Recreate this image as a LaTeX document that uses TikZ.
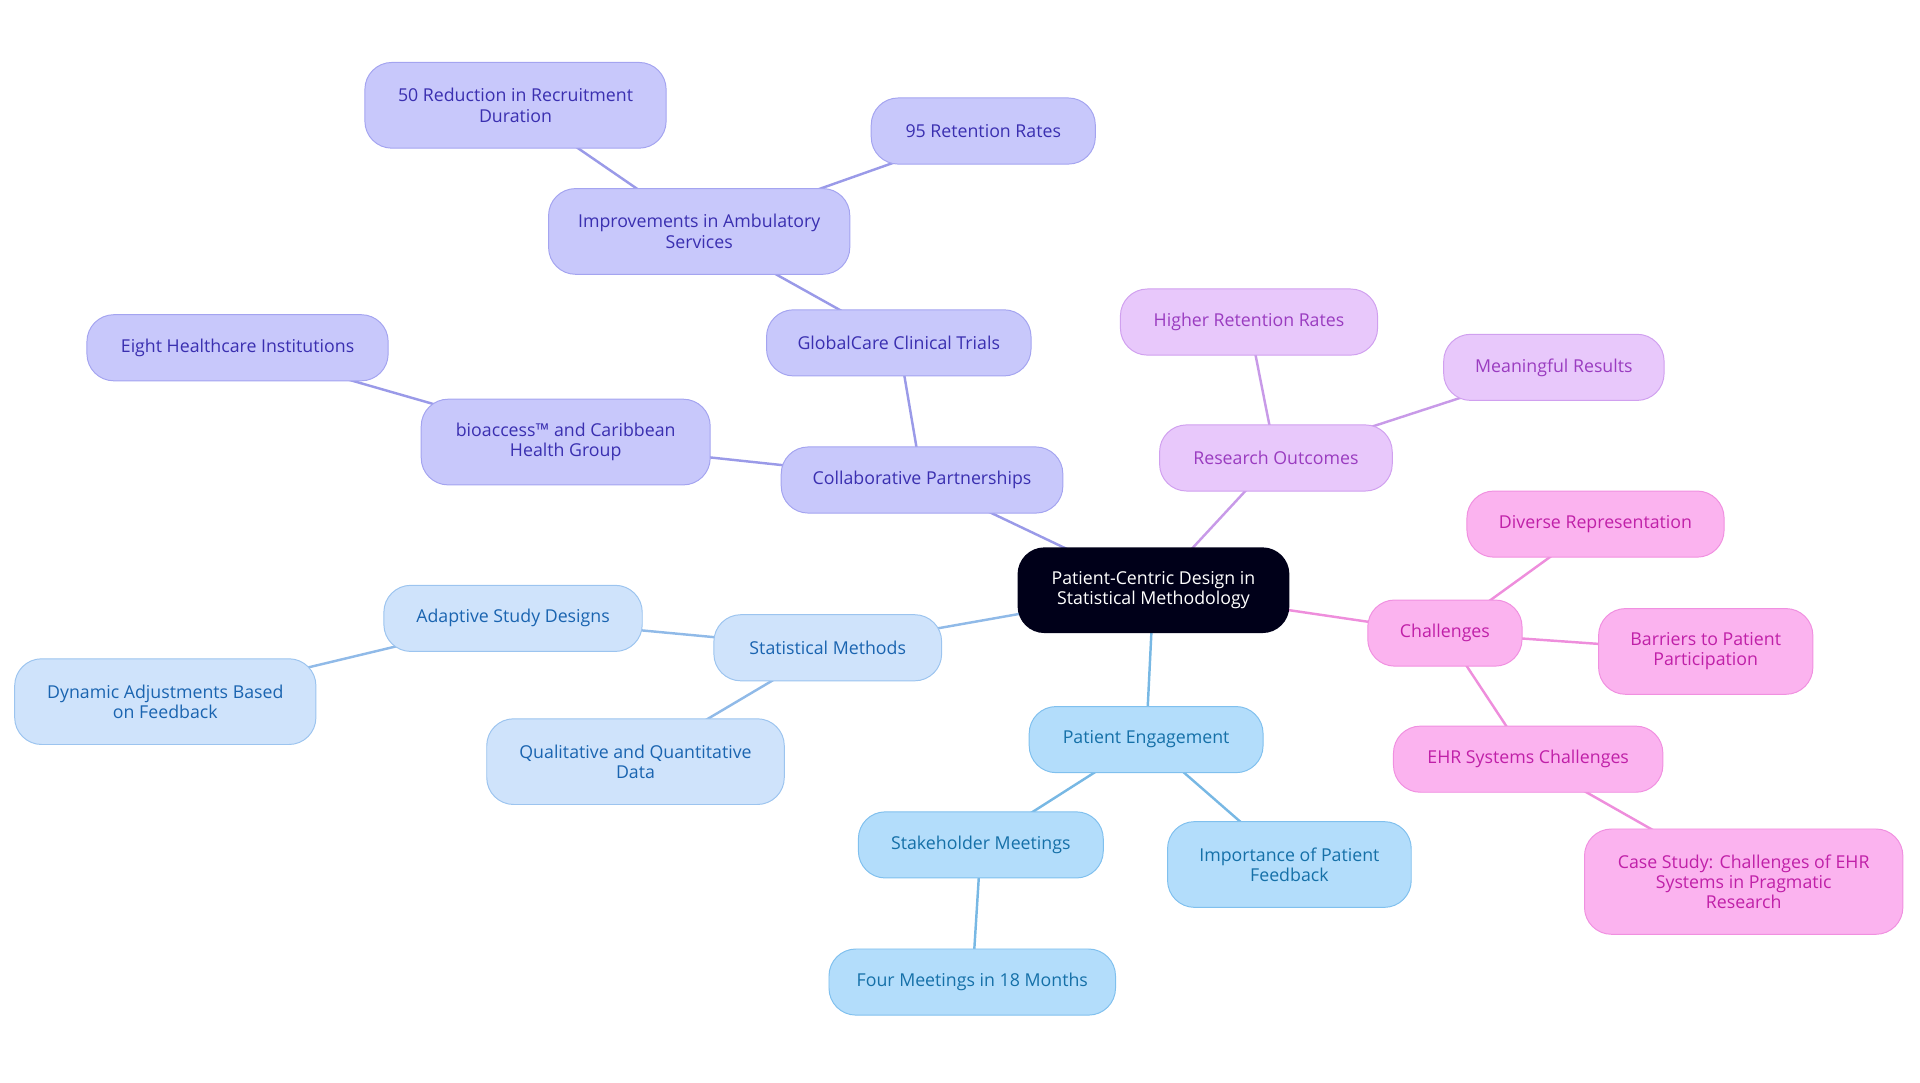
\documentclass[tikz,border=0pt]{standalone}
\usepackage{fontspec}
\setmainfont{Open Sans}
\begin{document}
\begin{tikzpicture}[x=1pt,y=-1pt,
 base/.style={rounded corners=22pt,align=center,font=\fontsize{14.5}{16.5}\selectfont,inner sep=0pt,line width=0.8pt},
 pu/.style={base,fill=pF,draw=pD,text=pT},
 lb/.style={base,fill=lF,draw=lD,text=lT},
 bl/.style={base,fill=bF,draw=bD,text=bT},
 vi/.style={base,fill=vF,draw=vD,text=vT},
 pk/.style={base,fill=kF,draw=kD,text=kT},
 e/.style={line width=2pt}]
\definecolor{pF}{HTML}{C8C8FB}\definecolor{pD}{HTML}{A4A4F0}\definecolor{pT}{HTML}{3A2FB0}\definecolor{pE}{HTML}{9A9AE8}
\definecolor{lF}{HTML}{CFE3FB}\definecolor{lD}{HTML}{9CC4EF}\definecolor{lT}{HTML}{1A64B0}\definecolor{lE}{HTML}{90BAE8}
\definecolor{bF}{HTML}{B3DDFB}\definecolor{bD}{HTML}{80C0EE}\definecolor{bT}{HTML}{1570A8}\definecolor{bE}{HTML}{78B8E4}
\definecolor{vF}{HTML}{E8C8FB}\definecolor{vD}{HTML}{D0A0EF}\definecolor{vT}{HTML}{9A3CC0}\definecolor{vE}{HTML}{C89AE8}
\definecolor{kF}{HTML}{FBB3EF}\definecolor{kD}{HTML}{F090E0}\definecolor{kT}{HTML}{C020A8}\definecolor{kE}{HTML}{EE8EDC}
\useasboundingbox (0,0) rectangle (1568,884);
\def\nd#1#2#3#4#5#6#7{\node[#1,minimum width=#4pt,minimum height=#5pt] (#6) at (#2,#3) {#7};}
\nd{base,fill=black!90!blue,text=white}{942}{482}{222}{70}{c}{Patient-Centric Design in\\Statistical Methodology}
\nd{pu}{753}{392}{230}{54}{cp}{Collaborative Partnerships}
\nd{pu}{734}{280}{216}{54}{gc}{GlobalCare Clinical Trials}
\nd{pu}{571}{189}{246}{70}{im}{Improvements in Ambulatory\\Services}
\nd{pu}{421}{86}{246}{70}{fr}{50 Reduction in Recruitment\\Duration}
\nd{pu}{803}{107}{183}{54}{nr}{95 Retention Rates}
\nd{pu}{462}{361}{236}{70}{bi}{bioaccess™ and Caribbean\\Health Group}
\nd{pu}{194}{284}{246}{54}{eh}{Eight Healthcare Institutions}
\nd{lb}{676}{529}{186}{54}{sm}{Statistical Methods}
\nd{lb}{419}{505}{211}{54}{ad}{Adaptive Study Designs}
\nd{lb}{135}{573}{246}{70}{dy}{Dynamic Adjustments Based\\on Feedback}
\nd{lb}{519}{622}{243}{70}{qu}{Qualitative and Quantitative\\Data}
\nd{bl}{936}{604}{191}{54}{pe}{Patient Engagement}
\nd{bl}{801}{690}{200}{54}{st}{Stakeholder Meetings}
\nd{bl}{794}{802}{234}{54}{fm}{Four Meetings in 18 Months}
\nd{bl}{1053}{706}{199}{70}{ip}{Importance of Patient\\Feedback}
\nd{vi}{1042}{374}{190}{54}{ro}{Research Outcomes}
\nd{vi}{1020}{263}{210}{54}{hr}{Higher Retention Rates}
\nd{vi}{1269}{300}{180}{54}{mr}{Meaningful Results}
\nd{pk}{1180}{517}{126}{54}{ch}{Challenges}
\nd{pk}{1303}{428}{210}{54}{dr}{Diverse Representation}
\nd{pk}{1393}{532}{175}{70}{ba}{Barriers to Patient\\Participation}
\nd{pk}{1248}{620}{220}{54}{eq}{EHR Systems Challenges}
\nd{pk}{1424}{720}{260}{86}{cs}{Case Study: Challenges of EHR\\Systems in Pragmatic\\Research}
\begin{scope}[on background layer/.style={}]
\end{scope}
\pgfdeclarelayer{bg}\pgfsetlayers{bg,main}
\begin{pgfonlayer}{bg}
\draw[e,pE] (c.center)--(cp.center) (cp.center)--(gc.center) (gc.center)--(im.center) (im.center)--(fr.center) (im.center)--(nr.center) (cp.center)--(bi.center) (bi.center)--(eh.center);
\draw[e,lE] (c.center)--(sm.center) (sm.center)--(ad.center) (ad.center)--(dy.center) (sm.center)--(qu.center);
\draw[e,bE] (c.center)--(pe.center) (pe.center)--(st.center) (st.center)--(fm.center) (pe.center)--(ip.center);
\draw[e,vE] (c.center)--(ro.center) (ro.center)--(hr.center) (ro.center)--(mr.center);
\draw[e,kE] (c.center)--(ch.center) (ch.center)--(dr.center) (ch.center)--(ba.center) (ch.center)--(eq.center) (eq.center)--(cs.center);
\end{pgfonlayer}
\end{tikzpicture}
\end{document}
